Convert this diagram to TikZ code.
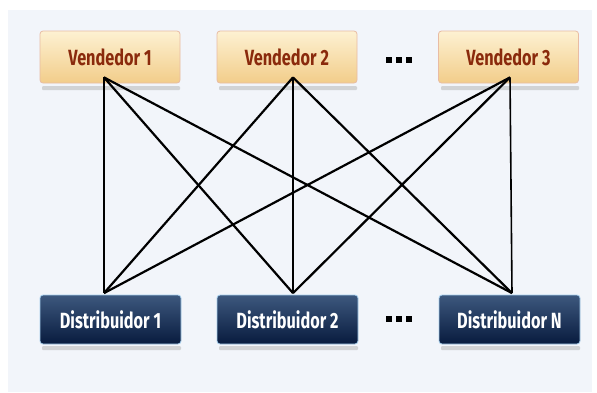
\documentclass[tikz,border=0pt]{standalone}
\usepackage{fontspec}
\newfontfamily\boxfont{Fira Sans}[FakeStretch=0.74]
\usetikzlibrary{calc}
\definecolor{bgc}{HTML}{F2F5FA}
\definecolor{vtop}{HTML}{FDF1D2}
\definecolor{vbot}{HTML}{F2CD8A}
\definecolor{vedge}{HTML}{E8BCA4}
\definecolor{vtext}{HTML}{8A2A0C}
\definecolor{dtop}{HTML}{3D587E}
\definecolor{dbot}{HTML}{081B3E}
\definecolor{dedge}{HTML}{A8D0EE}
\tikzset{
  x=1pt, y=-1pt,
  vbox/.style={draw=vedge, line width=0.8pt, rounded corners=3pt,
    top color=vtop, bottom color=vbot, minimum width=140pt, minimum height=52pt,
    font=\boxfont\bfseries\fontsize{22}{23}\selectfont, text=vtext},
  dbox/.style={draw=dedge, line width=0.8pt, rounded corners=3pt,
    top color=dtop, bottom color=dbot, minimum width=141pt, minimum height=49pt,
    font=\boxfont\bfseries\fontsize{22}{23}\selectfont, text=white},
  shadowbar/.style={fill=black!30, opacity=0.5, rounded corners=1pt},
  link/.style={line width=2.2pt, black},
  vlink/.style={line width=1.6pt, black},
  dotsnode/.style={inner sep=0pt}
}
\newcommand{\sqdots}{\rule{6pt}{6pt}\hspace{4pt}\rule{6pt}{6pt}\hspace{4pt}\rule{6pt}{6pt}}
\begin{document}
\begin{tikzpicture}
\useasboundingbox (0,0) rectangle (597,392);
\fill[white] (0,0) rectangle (597,392);
\fill[bgc] (8,10) rectangle (592,392);
% shadows
\foreach \x in {40,217,439}{
  \fill[shadowbar] (\x+2,86) rectangle (\x+140,90);
  \fill[shadowbar] (\x+2,346) rectangle (\x+141,350);
}
% boxes
\node[vbox] (v1) at (110,57) {Vendedor 1};
\node[vbox] (v2) at (287,57) {Vendedor 2};
\node[vbox] (v3) at (508.5,57) {Vendedor 3};
\node[dbox] (d1) at (110.5,319.5) {Distribuidor 1};
\node[dbox] (d2) at (287.5,319.5) {Distribuidor 2};
\node[dbox] (dn) at (509.5,319.5) {Distribuidor N};
\node[dotsnode] (vdots) at (398.5,60) {\sqdots};
\node[dotsnode] (ddots) at (398.5,319) {\sqdots};
% anchor points
\coordinate (pv1) at ($(v1.south)+(-6,-6)$);
\coordinate (pv2) at ($(v2.south)+(6,-6)$);
\coordinate (pv3) at ($(v3.south)+(1.5,-6)$);
\coordinate (pd1) at ($(d1.north)+(-6.5,-1.5)$);
\coordinate (pd2) at ($(d2.north)+(5.5,-1.5)$);
\coordinate (pdn) at ($(dn.north)+(2.5,-1.5)$);
% connectors
\draw[vlink] (pv1) -- (pd1);
\draw[vlink] (pv2) -- (pd2);
\draw[vlink] (pv3) -- (pdn);
\draw[link] (pv1) -- (pd2);
\draw[link] (pv1) -- (pdn);
\draw[link] (pv2) -- (pd1);
\draw[link] (pv2) -- (pdn);
\draw[link] (pv3) -- (pd1);
\draw[link] (pv3) -- (pd2);
\end{tikzpicture}
\end{document}
